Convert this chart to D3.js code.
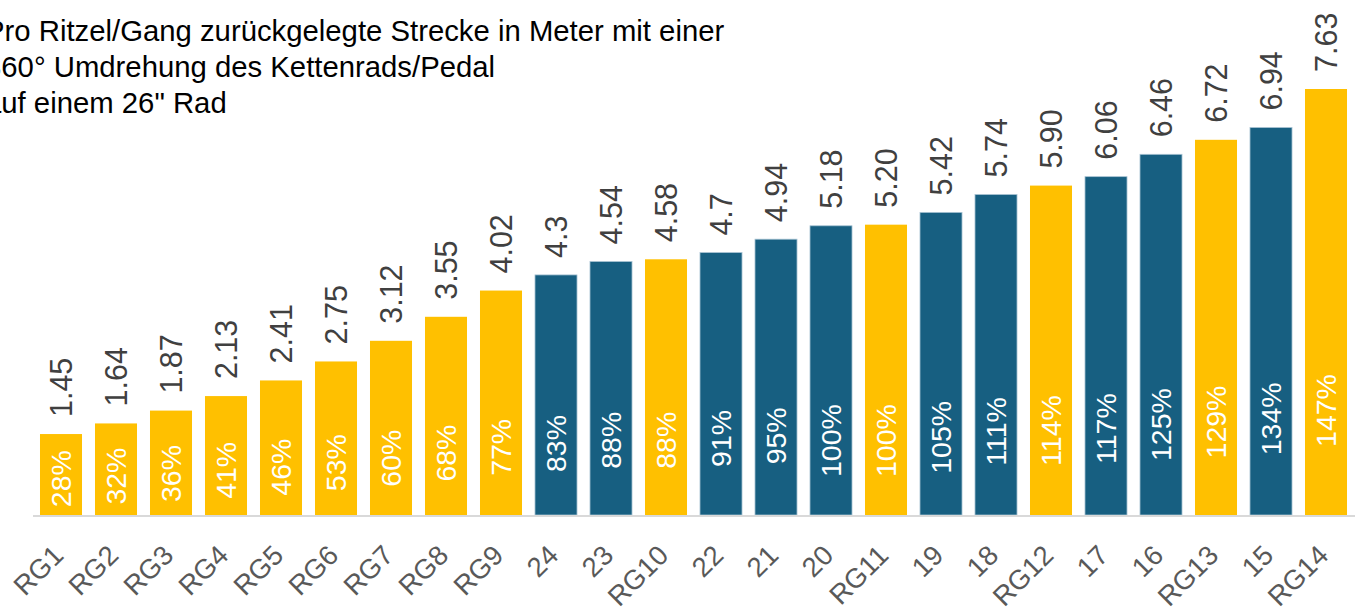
<!DOCTYPE html>
<html><head><meta charset="utf-8">
<script src="https://cdn.jsdelivr.net/npm/d3@7/dist/d3.min.js"></script>
<style>
html,body{margin:0;padding:0;background:#fff;overflow:hidden}
svg{display:block;font-family:"Liberation Sans",Arial,sans-serif}
</style></head>
<body>
<svg id="chart" width="1355" height="613"></svg>
<script>
const categories = ["RG1","RG2","RG3","RG4","RG5","RG6","RG7","RG8","RG9","24","23","RG10","22","21","20","RG11","19","18","RG12","17","16","RG13","15","RG14"];
const distances = [1.45,1.64,1.87,2.13,2.41,2.75,3.12,3.55,4.02,4.3,4.54,4.58,4.7,4.94,5.18,5.20,5.42,5.74,5.90,6.06,6.46,6.72,6.94,7.63];
const distanceLabels = ["1.45","1.64","1.87","2.13","2.41","2.75","3.12","3.55","4.02","4.3","4.54","4.58","4.7","4.94","5.18","5.20","5.42","5.74","5.90","6.06","6.46","6.72","6.94","7.63"];
const percents = [28,32,36,41,46,53,60,68,77,83,88,88,91,95,100,100,105,111,114,117,125,129,134,147];
const titleLines = ["Pro Ritzel/Gang zurückgelegte Strecke in Meter mit einer","360° Umdrehung des Kettenrads/Pedal","auf einem 26\" Rad"];

const svg = d3.select("#chart");
const YELLOW = "#FFC000", BLUE = "#175F81";

const x = d3.scaleBand().domain(categories).range([33.5, 1353.5]).paddingInner(0.236).paddingOuter(0.118);
const y = d3.scaleLinear().domain([0, 7.63]).range([515, 89]);
const yp = d3.scaleLinear().domain([0, 100]).range([468, 404.1]);

const data = categories.map((c,i)=>({c, v:distances[i], lab:distanceLabels[i], p:percents[i], rg:c.startsWith("RG")}));

// bars
svg.append("g").selectAll("rect").data(data).join("rect")
  .attr("x", d=>x(d.c)).attr("width", x.bandwidth())
  .attr("y", d=>y(d.v)).attr("height", d=>y(0)-y(d.v))
  .attr("fill", d=>d.rg?YELLOW:BLUE)
  .attr("stroke", d=>d.rg?"none":"#A8C3D3").attr("stroke-width", 0.8);

// axis
const axis = svg.append("g").attr("transform", `translate(0,${y(0)})`)
  .call(d3.axisBottom(x).tickSize(0).tickPadding(0));
axis.select(".domain").remove();
svg.append("line").attr("x1", 33).attr("x2", 1355).attr("y1", y(0)+1).attr("y2", y(0)+1)
  .attr("stroke", "#D9D9D9").attr("stroke-width", 2);
axis.selectAll(".tick text")
  .attr("font-size", 27.5).attr("fill", "#595959")
  .attr("font-family", '"Liberation Sans",Arial,sans-serif')
  .attr("text-anchor", "end").attr("dy", 0).attr("y", 0)
  .attr("transform", "translate(4,42) rotate(-45)");

// value labels
svg.append("g").selectAll("text").data(data).join("text")
  .attr("transform", d=>`translate(${x(d.c)+x.bandwidth()/2},${y(d.v)-17}) rotate(-90)`)
  .attr("dy", "0.36em").attr("text-anchor", "start")
  .attr("font-size", 30.5).attr("fill", "#404040")
  .text(d=>d.lab);

// percent labels
svg.append("g").selectAll("text").data(data).join("text")
  .attr("transform", d=>`translate(${x(d.c)+x.bandwidth()/2},${yp(d.p)}) rotate(-90)`)
  .attr("dy", "0.36em").attr("text-anchor", "end")
  .attr("font-size", 28.5).attr("fill", "#FFFFFF")
  .text(d=>d.p + "%");

// title
svg.append("g").selectAll("text").data(titleLines).join("text")
  .attr("x", -15).attr("y", (d,i)=>41 + i*36)
  .attr("font-size", 29.3).attr("fill", "#000")
  .text(d=>d);
</script>
</body></html>
